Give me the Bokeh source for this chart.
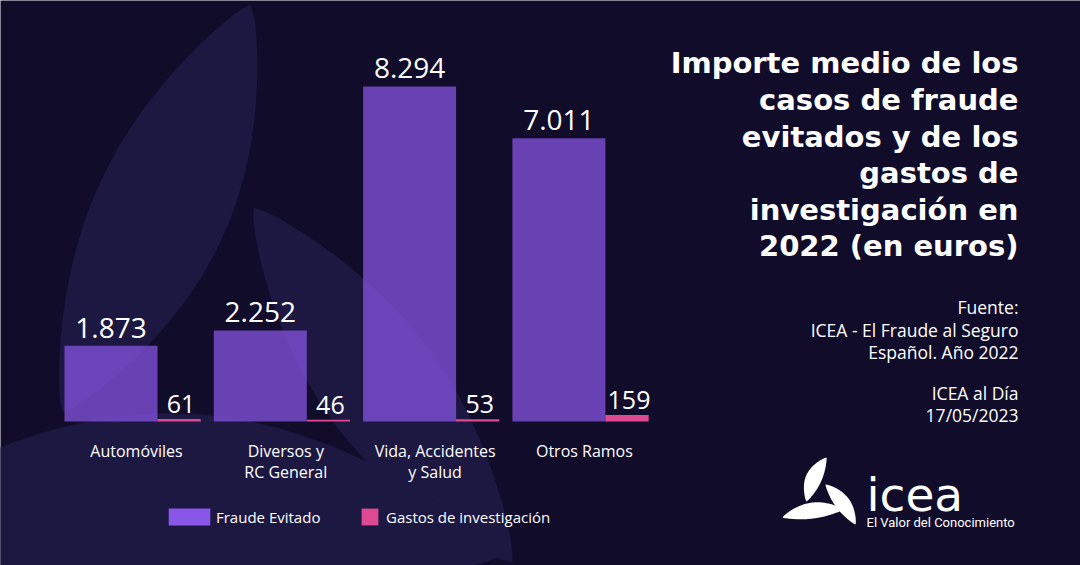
import numpy as np
from bokeh.plotting import figure
from bokeh.models import Range1d, Label, Legend, LegendItem, ColumnDataSource
from bokeh.transform import dodge
from bokeh.core.properties import value
from bokeh.embed import file_html
from bokeh.resources import INLINE

# ---------------- data ----------------
categories = ["Automóviles", "Diversos y\nRC General", "Vida, Accidentes\ny Salud", "Otros Ramos"]
fraude_evitado = [1873, 2252, 8294, 7011]
gastos_investigacion = [61, 46, 53, 159]
fraude_labels = ["1.873", "2.252", "8.294", "7.011"]
gastos_labels = ["61", "46", "53", "159"]
series_names = ["Fraude Evitado", "Gastos de investigación"]
title_lines = ["Importe medio de los", "casos de fraude", "evitados y de los",
               "gastos de", "investigación en", "2022 (en euros)"]
source_lines = ["Fuente:", "ICEA - El Fraude al Seguro", "Español. Año 2022"]
date_lines = ["ICEA al Día", "17/05/2023"]
logo_name = "icea"
logo_tagline = "El Valor del Conocimiento"

# ---------------- style ----------------
W, H = 1080, 565
BG = "#100c2a"
PETAL = "#1c1841"
PURPLE = "#8a56e8"
PINK = "#dd4a92"
FONT = "Open Sans"
PITCH = 149.3      # px per category
X0 = 132.0         # px of first group centre
BASE = 421.0       # px of baseline from top
SCALE = 0.04039    # px per euro
BL = 0.36          # baseline correction (em)

p = figure(width=W, height=H, output_backend="svg", toolbar_location=None,
           x_range=Range1d(-X0 / PITCH, (W - X0) / PITCH),
           y_range=Range1d(-(H - BASE) / SCALE, BASE / SCALE),
           x_axis_location=None, y_axis_location=None, min_border=0,
           background_fill_color=BG, border_fill_color=BG, outline_line_color=None)
p.grid.visible = False
p.extra_x_ranges = {"px": Range1d(0, W)}
p.extra_y_ranges = {"px": Range1d(H, 0)}


def leaf(p0, p1, b1, b2, n=48, k=0.8):
    p0 = np.array(p0, float); p1 = np.array(p1, float)
    d = p1 - p0
    L = np.hypot(*d)
    nrm = np.array([-d[1], d[0]]) / L
    t = np.linspace(0, 1, n)
    prof = np.sin(np.pi * t) ** k
    base = p0[None, :] + t[:, None] * d[None, :]
    s1 = base + nrm[None, :] * (b1 * prof)[:, None]
    s2 = (base - nrm[None, :] * (b2 * prof)[:, None])[::-1]
    pts = np.vstack([s1, s2])
    return pts[:, 0].tolist(), pts[:, 1].tolist()


# decorative background petals
bg_petals = [leaf((250, 4), (62, 412), 62, 72),
             leaf((253, 207), (512, 562), 62, 58),
             leaf((-140, 530), (500, 556), 50, 130)]
p.patches(xs=[a for a, b in bg_petals], ys=[b for a, b in bg_petals],
          fill_color=PETAL, line_color=None, x_range_name="px", y_range_name="px")

# ---------------- bars ----------------
src = ColumnDataSource(dict(x=list(range(len(categories))),
                            fraude=fraude_evitado, gastos=gastos_investigacion,
                            flab=fraude_labels, glab=gastos_labels,
                            l1=[c.split("\n")[0] for c in categories],
                            l2=[c.split("\n")[1] if "\n" in c else "" for c in categories]))

F_OFF, F_W = -21.5 / PITCH, 93.0 / PITCH
G_OFF, G_W = 46.6 / PITCH, 43.3 / PITCH

p.vbar(x=dodge("x", F_OFF), top="fraude", bottom=0, width=F_W, source=src,
       fill_color=PURPLE, fill_alpha=0.72, line_color=None)
p.vbar(x=dodge("x", G_OFF), top="gastos", bottom=0, width=G_W, source=src,
       fill_color=PINK, fill_alpha=1.0, line_color=None)

p.text(x=dodge("x", F_OFF), y="fraude", text="flab", source=src, y_offset=-8 - BL * 28,
       text_align="center", text_baseline="alphabetic", text_color="white",
       text_font=value(FONT), text_font_size="28px")
p.text(x=dodge("x", G_OFF + 2 / PITCH), y="gastos", text="glab", source=src,
       y_offset=-6 - BL * 25,
       text_align="center", text_baseline="alphabetic", text_color="white",
       text_font=value(FONT), text_font_size="25px")

p.text(x=dodge("x", 4 / PITCH), y=0, text="l1", source=src, y_offset=35 - BL * 16,
       text_align="center", text_baseline="alphabetic", text_color="white",
       text_font=value(FONT), text_font_size="16px")
p.text(x=dodge("x", 4 / PITCH), y=0, text="l2", source=src, y_offset=56 - BL * 16,
       text_align="center", text_baseline="alphabetic", text_color="white",
       text_font=value(FONT), text_font_size="16px")

# ---------------- legend ----------------
nan = float("nan")
r_leg1 = p.vbar(x=[nan], top=[nan], width=0.5, fill_color=PURPLE, line_color=None)
r_leg2 = p.vbar(x=[nan], top=[nan], width=0.5, fill_color=PINK, line_color=None)
# legend area glyphs are inset by 10% on every side
for rend, name, loc, gw, so in [(r_leg1, series_names[0], (163, 38), 52, 1),
                                (r_leg2, series_names[1], (359, 38), 21, 6)]:
    leg = Legend(items=[LegendItem(label=name, renderers=[rend])], location=loc,
                 orientation="horizontal", glyph_width=gw, glyph_height=21,
                 label_height=21, label_standoff=so, padding=0, margin=0,
                 border_line_color=None, background_fill_alpha=0,
                 label_text_color="white", label_text_font=FONT,
                 label_text_font_size="15px")
    p.add_layout(leg)

# ---------------- titles / texts ----------------
for i, line in enumerate(title_lines):
    p.add_layout(Label(x=1018, y=H - (73 + 36.6 * i) + BL * 28, x_units="screen",
                       y_units="screen", text=line, text_align="right",
                       text_baseline="alphabetic", text_color="white",
                       text_font="DejaVu Sans", text_font_style="bold",
                       text_font_size="29px"))

for line, py in zip(source_lines + date_lines, [313, 336, 358, 399, 421]):
    p.add_layout(Label(x=1018, y=H - py + BL * 17.5, x_units="screen", y_units="screen",
                       text=line, text_align="right", text_baseline="alphabetic",
                       text_color="white", text_font=FONT, text_font_size="17.5px"))

# ---------------- logo ----------------
logo_petals = [leaf((826, 457), (806, 501), 11, 5),
               leaf((825, 484), (855, 524), 5, 10),
               leaf((782, 517), (843, 509), 5, 11)]
p.patches(xs=[a for a, b in logo_petals], ys=[b for a, b in logo_petals],
          fill_color="white", line_color=None, x_range_name="px", y_range_name="px")
p.add_layout(Label(x=866, y=H - 505 + 11, x_units="screen", y_units="screen", text=logo_name,
                   text_align="left", text_baseline="alphabetic", text_color="white",
                   text_font="DejaVu Sans", text_font_size="47px"))
p.add_layout(Label(x=866, y=H - 527 + 5, x_units="screen", y_units="screen", text=logo_tagline,
                   text_align="left", text_baseline="alphabetic", text_color="white",
                   text_font="Roboto", text_font_size="13px"))

open("out.html", "w").write(file_html(p, INLINE))
